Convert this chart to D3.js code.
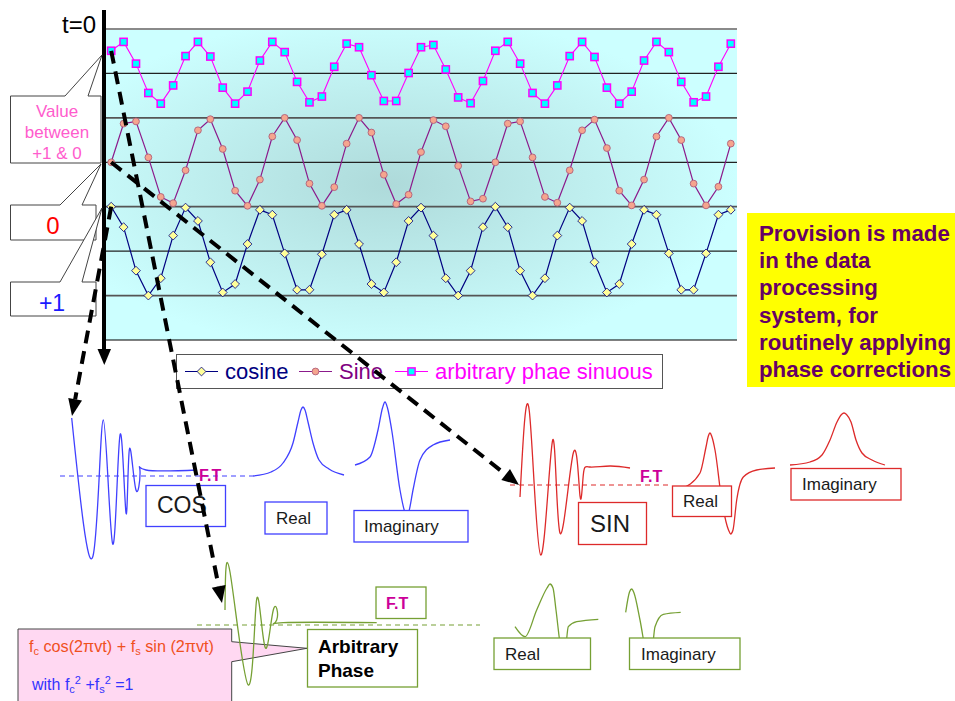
<!DOCTYPE html>
<html><head><meta charset="utf-8">
<script src="https://cdn.jsdelivr.net/npm/d3@7"></script>
<style>
html,body{margin:0;padding:0;background:#fff;}
svg{display:block;font-family:"Liberation Sans",Arial,sans-serif;}
</style></head><body>
<svg id="c" width="955" height="701"></svg>
<script>
// ---------------- DATA ----------------
const timePoints = d3.range(1, 52); // 51 sample categories
const cosine = [3.0,2.54,1.56,1.0,1.39,2.35,2.98,2.68,1.75,1.07,
  1.26,2.16,2.93,2.82,1.95,1.13,1.13,1.93,2.82,2.93,
  2.16,1.26,1.07,1.75,2.68,2.98,2.35,1.39,1.0,1.56,
  2.54,3.0,2.54,1.56,1.0,1.39,2.35,2.98,2.68,1.75,
  1.07,1.26,2.16,2.93,2.82,1.95,1.13,1.13,1.95,2.82,2.93];
const sine = [4.0,4.87,4.92,4.11,3.22,3.08,3.82,4.72,4.97,4.30,
  3.36,3.02,3.61,4.58,5.0,4.50,3.52,3.02,3.44,4.42,
  5.0,4.67,3.72,3.06,3.27,4.23,4.95,4.81,3.92,3.12,
  3.18,4.0,4.87,4.92,4.11,3.22,3.09,3.82,4.72,4.96,
  4.32,3.36,3.03,3.61,4.58,5.0,4.50,3.52,3.03,3.45,4.42];
const arbitrary = [6.51,6.71,6.22,5.56,5.32,5.73,6.39,6.71,6.38,5.68,
  5.32,5.59,6.29,6.71,6.48,5.81,5.35,5.48,6.15,6.67,
  6.59,5.96,5.38,5.38,6.01,6.59,6.64,6.09,5.46,5.33,
  5.83,6.51,6.71,6.22,5.56,5.32,5.73,6.39,6.71,6.37,
  5.68,5.32,5.59,6.29,6.71,6.48,5.81,5.35,5.48,6.15,6.67];
const gridValues = [0,1,2,3,4,5,6,7];
const seriesNames = ["cosine","Sine","arbitrary phae sinuous"];
const noteLines = ["Provision is made","in the data","processing","system, for","routinely applying","phase corrections"];

// illustrative FID / spectrum shapes: [offset along panel, height above baseline]
const blueFid  = [[1.7,58],[23,-80],[33.3,56],[42.7,-68],[50,41],[56,-37],[59.3,26],[65.7,-13],[70,5],[76,6],[127,6]];
const blueReal = [[0,0],[18,4],[30,13],[40,33],[45,54],[48,66],[50,69],[52,66],[55,54],[60,33],[66,16],[76,7],[91,1]];
const blueImag = [[2,11],[17,19],[25,46],[29.5,68],[32,74],[34.5,68],[38.7,46],[47,-14],[51.5,-35],[53.7,-40],[56,-35],[60,-14],[67,16],[80,31],[97,36]];
const redFid   = [[0,-12],[9.3,74],[20.7,-70],[32.7,45],[40,-48],[53.3,32],[60,-11],[63.3,10],[70,18],[90,19],[110,17]];
const redReal  = [[0.7,-4],[20,12],[26,38],[28.2,48.5],[30,52],[31.8,48.5],[35,35],[41.7,-15],[48.5,-45],[50.7,-49],[53,-45],[56.7,-15],[63.3,8],[76.7,15],[95,17]];
const redImag  = [[0,20],[20,23],[32,30],[40,45],[47,63],[51.5,70.5],[54,72],[56.5,70.5],[61,63],[66,45],[72,32],[82,25],[95,20]];
const greenFid = [[0,15],[5,53],[23.3,-60],[31.7,26],[40,-22],[48.3,15],[51.7,5],[58.3,2.3],[151.7,2.3]];
const greenReal= [[0,-1.7],[10,-11.7],[21.7,15],[32,37],[35,41],[38,37],[41,15],[46,-24],[48.3,-29.3],[50.5,-24],[53.3,-1.7],[61.7,3.3],[83.3,5.7]];
const greenImag= [[0.7,12.7],[4.5,33],[6.7,36],[9,32],[15,5],[22,-32],[24.3,-36.7],[26.5,-32],[30,-1.7],[38.3,10.7],[55.7,12.7]];

// ---------------- LAYOUT ----------------
const svg = d3.select("#c");
const plot = {left:105, right:737, top:29, bottom:340};
const x = d3.scaleBand().domain(timePoints).range([plot.left, plot.right]);
const xc = d => x(d) + x.bandwidth()/2;
const y = d3.scaleLinear().domain([0,7]).range([plot.bottom, plot.top]);

const defs = svg.append("defs");
const rg = defs.append("radialGradient").attr("id","bg").attr("cx",0.45).attr("cy",0.5).attr("r",0.55);
rg.append("stop").attr("offset","0%").attr("stop-color","#aedada");
rg.append("stop").attr("offset","100%").attr("stop-color","#ccffff");

svg.append("rect").attr("x",plot.left).attr("y",plot.top).attr("width",plot.right-plot.left)
  .attr("height",plot.bottom-plot.top).attr("fill","url(#bg)");

svg.append("g").selectAll("line").data(gridValues).join("line")
  .attr("x1",plot.left).attr("x2",plot.right)
  .attr("y1",d=>y(d)).attr("y2",d=>y(d))
  .attr("stroke",d=> d===7 ? "#8a8a8a" : (d===0 ? "#000" : (d%2 ? "#555" : "#222")))
  .attr("stroke-width",d=> d===7 ? 2 : (d%2 ? 1.8 : 1.2));

const seriesDefs = [
  {name:seriesNames[0], values:cosine, line:"#000080", lw:1.2, marker:"diamond", fill:"#ffff99", mstroke:"#000080", text:"#000080"},
  {name:seriesNames[1], values:sine, line:"#8b1a8b", lw:1.2, marker:"circle", fill:"#f5a58e", mstroke:"#b0607a", text:"#800080"},
  {name:seriesNames[2], values:arbitrary, line:"#ff00ff", lw:1.1, marker:"square", fill:"#00ffff", mstroke:"#ff00ff", text:"#ff00ff"}
];
function drawMarker(g, type, fill, stroke){
  if(type==="diamond") g.append("path").attr("d","M0,-4.4L4.4,0L0,4.4L-4.4,0Z").attr("fill",fill).attr("stroke",stroke).attr("stroke-width",0.8);
  else if(type==="circle") g.append("circle").attr("r",3.4).attr("fill",fill).attr("stroke",stroke).attr("stroke-width",0.9);
  else g.append("rect").attr("x",-3.6).attr("y",-3.6).attr("width",7.2).attr("height",7.2).attr("fill",fill).attr("stroke",stroke).attr("stroke-width",1.5);
}
const lineGen = d3.line().x((d,i)=>xc(timePoints[i])).y(d=>y(d));
seriesDefs.slice().reverse().forEach(s=>{
  svg.append("path").attr("d",lineGen(s.values)).attr("fill","none").attr("stroke",s.line).attr("stroke-width",s.lw);
  svg.append("g").selectAll("g").data(s.values).join("g")
    .attr("transform",(d,i)=>`translate(${xc(timePoints[i])},${y(d)})`)
    .each(function(){ drawMarker(d3.select(this), s.marker, s.fill, s.mstroke); });
});

// vertical time axis with arrow
svg.append("line").attr("x1",104).attr("x2",104).attr("y1",10).attr("y2",351).attr("stroke","#000").attr("stroke-width",4);
svg.append("path").attr("d","M97.5,349L111,349L104.3,365Z").attr("fill","#000");
svg.append("text").attr("x",62).attr("y",33).attr("font-size",24).text("t=0");

// callouts
function callout(l,t,r,b,ba,bb,tip){
  return `M${l},${t}L${ba},${t}L${tip[0]},${tip[1]}L${bb},${t}L${r},${t}L${r},${b}L${l},${b}Z`;
}
const co = svg.append("g");
co.append("path").attr("d",callout(10.5,96,101,163,65,88,[102,55])).attr("fill","#fff").attr("stroke","#444").attr("stroke-width",1);
co.append("path").attr("d",callout(10.5,205,96,240,60,82,[101,164])).attr("fill","#fff").attr("stroke","#444").attr("stroke-width",1);
co.append("path").attr("d",callout(10.5,282,96,316,60,82,[102,208])).attr("fill","#fff").attr("stroke","#444").attr("stroke-width",1);
[["Value",117],["between",138],["+1 & 0",159]].forEach(([t,yy])=>
  co.append("text").attr("x",57).attr("y",yy).attr("text-anchor","middle").attr("font-size",17).attr("fill","#ff5ccd").text(t));
co.append("text").attr("x",53).attr("y",234).attr("text-anchor","middle").attr("font-size",24).attr("fill","#ff0000").text("0");
co.append("text").attr("x",52).attr("y",311).attr("text-anchor","middle").attr("font-size",23).attr("fill","#1a1aff").text("+1");

// legend
const lg = svg.append("g");
lg.append("rect").attr("x",176.5).attr("y",354.5).attr("width",486).attr("height",34).attr("fill","#fff").attr("stroke","#555");
const legendPos = [{lx:185, tx:225},{lx:299, tx:339},{lx:395, tx:435}];
seriesDefs.forEach((s,i)=>{
  const p = legendPos[i];
  lg.append("line").attr("x1",p.lx).attr("x2",p.lx+33).attr("y1",371.5).attr("y2",371.5).attr("stroke",s.line).attr("stroke-width",1.2);
  const m = lg.append("g").attr("transform",`translate(${p.lx+16.5},371.5)`);
  drawMarker(m, s.marker, s.fill, s.mstroke);
  lg.append("text").attr("x",p.tx).attr("y",378.5).attr("font-size",22).attr("fill",s.text).text(s.name);
});

// yellow note
const nt = svg.append("g");
nt.append("rect").attr("x",747).attr("y",213).attr("width",208).attr("height",174).attr("fill","#ffff00");
noteLines.forEach((t,i)=> nt.append("text").attr("x",759).attr("y",241+i*27.2)
  .attr("font-size",22.3).attr("font-weight","bold").attr("fill","#660066").text(t));

// ---------------- illustrations ----------------
function shape(pts, x0, base, color, curveType){
  const sx = d3.scaleLinear().domain([0,100]).range([x0, x0+100]);
  const sy = d3.scaleLinear().domain([0,100]).range([base, base-100]);
  const gen = d3.line().x(p=>sx(p[0])).y(p=>sy(p[1])).curve(curveType || d3.curveMonotoneX);
  svg.append("path").attr("d", gen(pts))
    .attr("fill","none").attr("stroke",color).attr("stroke-width",1.3);
}
function box(x0,y0,x1,y1,color){
  svg.append("rect").attr("x",x0).attr("y",y0).attr("width",x1-x0).attr("height",y1-y0)
    .attr("fill","#fff").attr("stroke",color).attr("stroke-width",1.3);
}
function label(t,xx,yy,size,opts={}){
  const e = svg.append("text").attr("x",xx).attr("y",yy).attr("font-size",size).attr("fill",opts.fill||"#1a1a1a").text(t);
  if(opts.bold) e.attr("font-weight","bold");
  return e;
}
function dashedBase(x0,x1,yy,color){
  svg.append("line").attr("x1",x0).attr("x2",x1).attr("y1",yy).attr("y2",yy)
    .attr("stroke",color).attr("stroke-width",1.1).attr("stroke-dasharray","5,4");
}
const BLUE="#4040ff", RED="#dd2a2a", GREEN="#76a034";
const FIDCURVE = d3.curveNatural;

// blue (cos)
dashedBase(60,253,476,BLUE);
shape(blueFid,70,476,BLUE,FIDCURVE);
shape(blueReal,253,476,BLUE);
shape(blueImag,353,476,BLUE);
box(146,485.5,225.5,526.5,BLUE); label("COS",157,513,23);
box(265,502,327,534,BLUE); label("Real",276,523.5,17);
box(354,510.5,468,542,BLUE); label("Imaginary",364,532,17);
label("F.T",199,481,16,{bold:true,fill:"#cc0099"});

// red (sin)
dashedBase(510,672,485,RED);
shape(redFid,520,485,RED,FIDCURVE);
shape(redReal,680,485,RED);
shape(redImag,790,485,RED);
box(578.5,502.5,646.5,544.5,RED); label("SIN",590,532,24);
box(672.5,486,731.5,516.5,RED); label("Real",683,507,17);
box(791,468.5,901,500,RED); label("Imaginary",802,490,17);
label("F.T",640,482,16,{bold:true,fill:"#cc0099"});

// pink callout for arbitrary phase
svg.append("path").attr("d","M18,629H231.7V641.7L307,648.3L231.7,661.7V706H18Z")
  .attr("fill","#ffd8f2").attr("stroke","#444").attr("stroke-width",1);
const f1 = svg.append("text").attr("x",29).attr("y",651.5).attr("font-size",16.2).attr("fill","#f0501e");
f1.append("tspan").text("f");
f1.append("tspan").attr("font-size",11).attr("dy",3).text("c");
f1.append("tspan").attr("dy",-3).text(" cos(2πvt) + f");
f1.append("tspan").attr("font-size",11).attr("dy",3).text("s");
f1.append("tspan").attr("dy",-3).text(" sin (2πvt)");
const f2 = svg.append("text").attr("x",32).attr("y",690).attr("font-size",16).attr("fill","#3333ff");
f2.append("tspan").text("with f");
f2.append("tspan").attr("font-size",11).attr("dy",3).text("c");
f2.append("tspan").attr("font-size",11).attr("dy",-9).text("2");
f2.append("tspan").attr("dy",6).text(" +f");
f2.append("tspan").attr("font-size",11).attr("dy",3).text("s");
f2.append("tspan").attr("font-size",11).attr("dy",-9).text("2");
f2.append("tspan").attr("dy",6).text(" =1");

// green (arbitrary)
dashedBase(197,480,625,GREEN);
shape(greenFid,225,625,GREEN,FIDCURVE);
shape(greenReal,515,625,GREEN);
shape(greenImag,625,625,GREEN);
box(376,587,426,618.5,GREEN); label("F.T",386,608.5,16,{bold:true,fill:"#cc0099"});
box(307.5,629.5,417.5,687,GREEN);
label("Arbitrary",318,653,19,{bold:true,fill:"#000"});
label("Phase",318,677,19,{bold:true,fill:"#000"});
box(494,638,590.5,669.5,GREEN); label("Real",505,659.5,17);
box(629.5,638,740,669.5,GREEN); label("Imaginary",641,659.5,17);

// ---------------- dashed arrows ----------------
const arrows = [
  {from:[xc(timePoints[0]), y(arbitrary[0])], to:[222,603]},
  {from:[xc(timePoints[0]), y(sine[0])], to:[519,485]},
  {from:[xc(timePoints[0]), y(cosine[0])], to:[72,416]}
];
arrows.forEach(a=>{
  const [x1,y1]=a.from, [x2,y2]=a.to;
  const ang = Math.atan2(y2-y1,x2-x1), L=17, W=7;
  const bx = x2 - L*Math.cos(ang), by = y2 - L*Math.sin(ang);
  svg.append("line").attr("x1",x1).attr("y1",y1).attr("x2",bx).attr("y2",by)
    .attr("stroke","#000").attr("stroke-width",4).attr("stroke-dasharray","13,8");
  const px = -Math.sin(ang)*W, py = Math.cos(ang)*W;
  svg.append("path").attr("d",`M${x2},${y2}L${bx+px},${by+py}L${bx-px},${by-py}Z`).attr("fill","#000");
});
</script>
</body></html>
